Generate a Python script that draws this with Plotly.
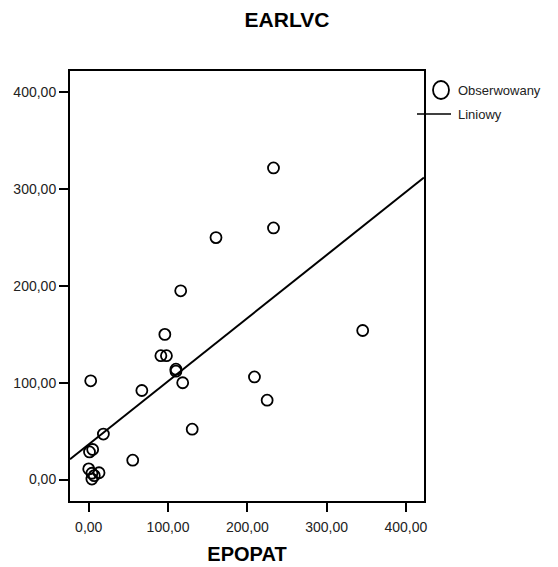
import plotly.graph_objects as go

epopat = [233, 233, 160.5, 116, 96, 91, 98, 110, 110, 2.5, 118.5, 67, 209, 225,
          345.5, 130.5, 18.5, 5, 1, 55.5, 0, 4, 13, 7, 4]
earlvc = [322, 260, 250, 195, 150, 128, 128, 114, 112, 102, 100, 92, 106, 82,
          154, 52, 47, 31, 28.5, 20, 11, 6.5, 7, 4, 0.5]

# Linear fit
fit_intercept = 36.4
fit_slope = 0.652

tick_vals = [0, 100, 200, 300, 400]
tick_text = ["0,00", "100,00", "200,00", "300,00", "400,00"]

x_range = [-23.6, 422.8]
y_range = [-22.2, 422.2]

font_family = "Liberation Sans, Arial, sans-serif"

# page body has an 8px default margin: figure is drawn 8px in and 8px down
W, H = 550, 559
OFF = 8

fig = go.Figure()
fig.add_trace(go.Scatter(
    x=epopat, y=earlvc, mode="markers", name="Obserwowany",
    marker=dict(symbol="circle-open", size=11, color="black", line=dict(width=1.8)),
    showlegend=False,
))
line_x = list(x_range)
line_y = [fit_intercept + fit_slope * v for v in line_x]
fig.add_trace(go.Scatter(
    x=line_x, y=line_y, mode="lines", name="Liniowy",
    line=dict(color="black", width=2), showlegend=False,
))

axis_common = dict(
    showgrid=False, zeroline=False, showline=True, linecolor="black", linewidth=2,
    mirror=True, ticks="outside", ticklen=9, tickwidth=2, tickcolor="black",
    tickfont=dict(family=font_family, size=14, color="#222"),
    tickvals=tick_vals, ticktext=tick_text,
)
fig.update_xaxes(range=x_range, ticklabelstandoff=3,
                 title=dict(text="<b>EPOPAT</b>", font=dict(family=font_family, size=20, color="black"), standoff=13),
                 **axis_common)
fig.update_yaxes(range=y_range, automargin=False, **axis_common)

# plot area in page pixels: x 70..424, y 71..501
PL, PR, PT, PB = 70, 424, 71, 501
def px(x):
    return (x - PL) / (PR - PL)
def py(y):
    return (PB - y) / (PB - PT)

# Manual legend
fig.add_shape(type="circle", xref="paper", yref="paper",
              xsizemode="pixel", ysizemode="pixel",
              xanchor=px(441), yanchor=py(90),
              x0=-8, x1=8, y0=-9, y1=9, line=dict(color="black", width=1.8))
fig.add_shape(type="line", xref="paper", yref="paper",
              x0=px(417), x1=px(451), y0=py(114), y1=py(114),
              line=dict(color="black", width=1.5))
fig.add_annotation(text="Obserwowany", xref="paper", yref="paper",
                   x=px(456), y=py(90), xanchor="left", yanchor="middle",
                   showarrow=False, font=dict(family=font_family, size=13, color="#222"))
fig.add_annotation(text="Liniowy", xref="paper", yref="paper",
                   x=px(456), y=py(114), xanchor="left", yanchor="middle",
                   showarrow=False, font=dict(family=font_family, size=13, color="#222"))

fig.update_layout(
    width=W, height=H,
    margin=dict(l=PL - OFF, r=W - (PR - OFF), t=PT - OFF, b=H - (PB - OFF), autoexpand=False),
    paper_bgcolor="white", plot_bgcolor="white",
    title=dict(text="<b>EARLVC</b>", x=(287 - OFF) / W, xanchor="center",
               y=1 - (20 - OFF) / H, yanchor="middle",
               xref="container", yref="container",
               font=dict(family=font_family, size=21, color="black")),
)

fig.write_html("out.html")
